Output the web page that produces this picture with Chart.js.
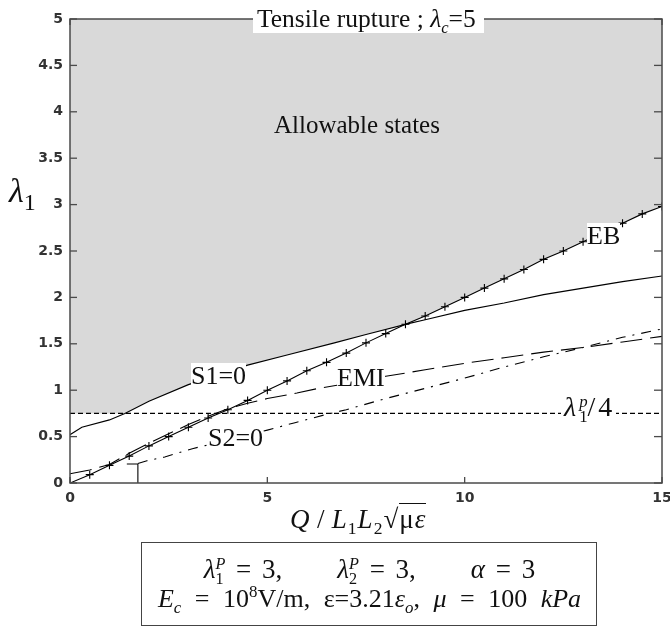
<!DOCTYPE html>
<html lang="en">
<head>
    <meta charset="UTF-8">
    <title>Tensile rupture</title>
    <script src="https://cdn.jsdelivr.net/npm/chart.js"></script>
    <style>
        body {
            margin: 0;
            background: #fff;
        }

        #wrap {
            position: relative;
            width: 670px;
            height: 629px;
        }

        #chart {
            position: absolute;
            left: 0;
            top: 0;
        }

        .lbl {
            position: absolute;
            font-family: "Liberation Serif", serif;
            font-size: 26px;
            line-height: 26px;
            color: #111;
            white-space: nowrap;
        }

        .bg {
            background: #fff;
        }

        sub, sup {
            font-size: 0.65em;
            line-height: 0;
        }

        .ss {
            display: inline-block;
            font-size: 0.6em;
            line-height: 0.9em;
            vertical-align: -6px;
            text-align: left;
            letter-spacing: 0;
        }

        .ss > * {
            display: block;
        }

        .gap {
            display: inline-block;
            width: 55px;
        }

        #box {
            position: absolute;
            left: 141px;
            top: 542px;
            width: 454px;
            height: 82px;
            border: 1.5px solid #444;
        }

        .legline {
            position: absolute;
            left: 141px;
            width: 457px;
            text-align: center;
            font-size: 26px;
            line-height: 26px;
        }
    </style>
</head>
<body>
    <div id="wrap">
        <canvas id="chart" width="670" height="629"></canvas>

        <div class="lbl bg" style="left:253px; top:0; padding:6px 8px 2px 4px; font-size:25.5px; line-height:25px;">Tensile rupture ; <i>λ</i><sub><i>c</i></sub>=5</div>
        <div class="lbl" style="left:274px; top:112px; font-size:25px; line-height:25px;">Allowable states</div>
        <div class="lbl bg" style="left:191px; top:363px;">S1=0</div>
        <div class="lbl bg" style="left:208px; top:425px;">S2=0</div>
        <div class="lbl bg" style="left:587px; top:223px;">EB</div>
        <div class="lbl bg" style="left:337px; top:365px;">EMI</div>
        <div class="lbl bg" style="left:561px; top:393px; font-size:28px; line-height:28px; letter-spacing:3px; padding:0 1px 0 3px;"><i>λ</i><span class="ss"><i>p</i><span>1</span></span>/4</div>

        <div class="lbl" style="left:9px; top:174px; font-size:34px; line-height:34px;"><i>λ</i><sub style="font-size:24px;">1</sub></div>
        <div class="lbl" style="left:290px; top:506px; font-size:27px; line-height:27px; letter-spacing:1px;"><i>Q</i>&thinsp;/&thinsp;<i>L</i><sub>1</sub><i>L</i><sub>2</sub>√<span style="border-top:1px solid #111;">μ<i>ε</i></span></div>

        <div id="box"></div>
        <div class="lbl legline" style="top:556px; font-size:27px; line-height:27px; word-spacing:4px;"><i>λ</i><span class="ss"><i>P</i><span>1</span></span> = 3,<span class="gap"></span><i>λ</i><span class="ss"><i>P</i><span>2</span></span> = 3,<span class="gap"></span><i>α</i> = 3</div>
        <div class="lbl legline" style="top:586px; word-spacing:7px;"><i>E</i><sub><i>c</i></sub> = 10<sup>8</sup>V/m, ε=3.21<i>ε</i><sub><i>o</i></sub>, <i>μ</i> = 100 <i>kPa</i></div>
    </div>

    <script>
        // Valores
        const ebX = [0, 0.5, 1, 1.5, 2, 2.5, 3, 3.5, 4, 4.5, 5, 5.5, 6, 6.5, 7, 7.5, 8, 8.5, 9, 9.5, 10, 10.5, 11, 11.5, 12, 12.5, 13, 13.5, 14, 14.5, 15];
        const ebY = [0, 0.09, 0.19, 0.29, 0.4, 0.5, 0.6, 0.7, 0.79, 0.89, 1.0, 1.1, 1.21, 1.3, 1.4, 1.51, 1.61, 1.71, 1.8, 1.9, 2.0, 2.1, 2.2, 2.3, 2.41, 2.5, 2.6, 2.7, 2.8, 2.9, 2.98];

        const s1X = [0, 0.3, 1.0, 1.39, 2.0, 3.0, 4.0, 4.5, 5.5, 6.7, 7.5, 8.6, 9.0, 10.0, 11.0, 12.0, 13.0, 14.0, 15.0];
        const s1Y = [0.52, 0.6, 0.68, 0.75, 0.88, 1.06, 1.2, 1.27, 1.38, 1.51, 1.6, 1.72, 1.76, 1.86, 1.94, 2.03, 2.1, 2.17, 2.23];

        const emiX = [0, 0.5, 1.0, 1.5, 2.0, 2.5, 3.0, 3.5, 4.0, 4.5, 5.0, 5.75, 6.3, 7.0, 8.0, 9.0, 10.0, 11.0, 12.0, 13.0, 14.0, 15.0];
        const emiY = [0.1, 0.14, 0.2, 0.32, 0.43, 0.53, 0.63, 0.72, 0.8, 0.86, 0.91, 0.97, 1.02, 1.07, 1.15, 1.22, 1.29, 1.35, 1.41, 1.46, 1.52, 1.58];

        const s2X = [1.72, 1.95, 2.4, 3.1, 4.0, 5.0, 5.7, 6.5, 7.0, 8.0, 9.0, 10.0, 11.0, 12.0, 13.0, 14.0, 15.0];
        const s2Y = [0.21, 0.24, 0.28, 0.37, 0.46, 0.57, 0.65, 0.74, 0.79, 0.91, 1.02, 1.13, 1.25, 1.36, 1.46, 1.57, 1.66];

        const markX = [1.44, 1.72, 1.72];
        const markY = [0.205, 0.205, 0];

        const limitY = 0.75;          // lambda_1^p / 4
        const xTicks = [0, 5, 10, 15];
        const yTicks = [0, 0.5, 1, 1.5, 2, 2.5, 3, 3.5, 4, 4.5, 5];

        function pts(xs, ys) {
            return xs.map((v, i) => ({ x: v, y: ys[i] }));
        }

        // contorno da região admissível (cinza)
        const envelope = [{ x: 0, y: limitY }]
            .concat(pts(s1X, s1Y).filter(p => p.x >= 1.39 && p.x <= 8.6))
            .concat(pts(ebX, ebY).filter(p => p.x > 8.6));

        function line(data, extra) {
            return Object.assign({
                data: data,
                showLine: true,
                borderColor: '#000',
                borderWidth: 1.1,
                pointRadius: 0,
                fill: false,
                tension: 0
            }, extra || {});
        }

        // moldura e ticks internos
        const frame = {
            id: 'frame',
            afterDatasetsDraw(chart) {
                const { ctx, chartArea: a, scales: { x, y } } = chart;
                const seg = (x1, y1, x2, y2) => {
                    ctx.beginPath();
                    ctx.moveTo(x1, y1);
                    ctx.lineTo(x2, y2);
                    ctx.stroke();
                };
                ctx.save();
                ctx.strokeStyle = '#4a4a4a';
                ctx.lineWidth = 1.5;
                ctx.strokeRect(a.left, a.top, a.right - a.left, a.bottom - a.top);
                ctx.lineWidth = 1.3;
                yTicks.forEach(v => {
                    const py = y.getPixelForValue(v);
                    seg(a.left, py, a.left + 7, py);
                    seg(a.right - 8, py, a.right, py);
                });
                xTicks.forEach(v => {
                    const px = x.getPixelForValue(v);
                    seg(px, a.bottom, px, a.bottom - 6);
                    seg(px, a.top, px, a.top + 6);
                });
                ctx.restore();
            }
        };

        const tickFont = { family: 'DejaVu Sans', size: 14, weight: 'bold' };

        new Chart(document.getElementById('chart'), {
            type: 'scatter',
            data: {
                datasets: [
                    line(pts(ebX, ebY), {
                        label: 'EB',
                        pointStyle: 'cross',
                        pointRadius: 4,
                        pointBorderWidth: 1.1,
                        pointBorderColor: '#000'
                    }),
                    line(pts(s1X, s1Y), { label: 'S1=0' }),
                    line(pts(emiX, emiY), { label: 'EMI', borderDash: [22, 8] }),
                    line(pts(s2X, s2Y), { label: 'S2=0', borderDash: [10, 7, 2, 7] }),
                    line([{ x: 0, y: limitY }, { x: 15, y: limitY }], { label: 'limit', borderDash: [5, 3] }),
                    line(pts(markX, markY), { label: 'mark' }),
                    line(envelope, {
                        label: 'Allowable states',
                        borderWidth: 0,
                        fill: 'end',
                        backgroundColor: '#d9d9d9',
                        order: 1
                    })
                ]
            },
            options: {
                responsive: false,
                animation: false,
                layout: { padding: { left: 0, right: 8, top: 19, bottom: 0 } },
                plugins: {
                    legend: { display: false },
                    tooltip: { enabled: false }
                },
                scales: {
                    x: {
                        type: 'linear',
                        min: 0,
                        max: 15,
                        grid: { display: false, drawTicks: false },
                        border: { display: false },
                        afterBuildTicks: s => { s.ticks = xTicks.map(v => ({ value: v })); },
                        afterFit: s => {
                            s.height = 146;
                            s.paddingLeft = 0;
                            s.paddingRight = 0;
                        },
                        ticks: {
                            padding: 7,
                            color: '#333',
                            font: tickFont,
                            maxRotation: 0,
                            callback: v => String(v)
                        }
                    },
                    y: {
                        min: 0,
                        max: 5,
                        grid: { display: false, drawTicks: false },
                        border: { display: false },
                        afterBuildTicks: s => { s.ticks = yTicks.map(v => ({ value: v })); },
                        afterFit: s => {
                            s.width = 70;
                            s.paddingTop = 0;
                            s.paddingBottom = 0;
                        },
                        ticks: {
                            padding: 7,
                            color: '#333',
                            font: tickFont,
                            callback: v => String(v)
                        }
                    }
                }
            },
            plugins: [frame]
        });
    </script>
</body>
</html>
